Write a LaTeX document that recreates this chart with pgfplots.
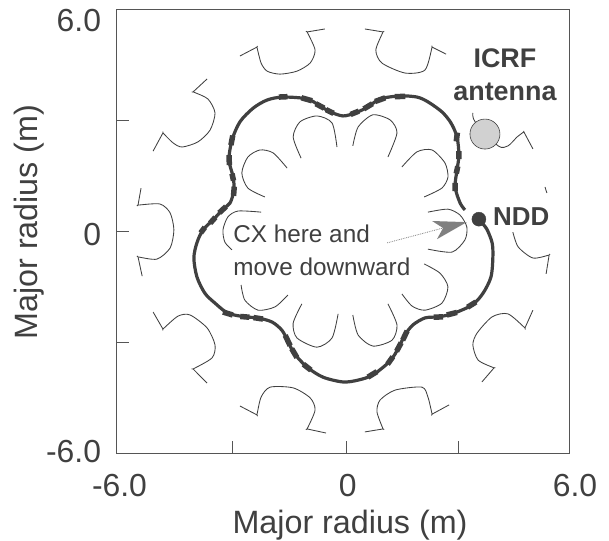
\documentclass[border=0pt]{standalone}
\usepackage{fontspec}
\setmainfont{Liberation Sans}
\usepackage{pgfplots}
\pgfplotsset{compat=1.18}
\definecolor{ink}{HTML}{404040}
\definecolor{frame}{HTML}{555555}
\pgfplotsset{coil/.style={line width=0.85bp,color=ink,no markers,smooth,tension=0.45}}
\begin{document}
\begin{tikzpicture}
\path[use as bounding box] (0,0) rectangle (609bp,541bp);
\begin{axis}[
  at={(116.5bp,88bp)},anchor=south west,scale only axis,
  width=453bp,height=444bp,
  xmin=-6,xmax=6,ymin=-6,ymax=6,
  axis line style={color=frame,line width=0.9bp},
  tick style={color=frame,line width=0.8bp},
  tick align=inside,major tick length=12bp,
  xtick pos=bottom,ytick pos=left,
  xtick={-6,-2.94,0.1,3.05,6},ytick={-6,-3,0,3,6},
  xticklabels={\hspace{6bp}-6.0,,\hspace{2bp}0,,\hspace{11bp}6.0},
  yticklabels={\raisebox{-9.5bp}[0pt][0pt]{-6.0},,\raisebox{-14.5bp}[0pt][0pt]{0},,\raisebox{-23bp}[0pt][0pt]{6.0}},
  yticklabel style={anchor=east,xshift=-12bp},
  xticklabel style={yshift=-17.5bp},
  tick label style={font=\fontsize{32}{34}\selectfont,color=ink},
  xlabel={Major radius (m)},ylabel={Major radius (m)},
  label style={font=\fontsize{32.4}{34}\selectfont,color=ink},
  xlabel style={at={(axis description cs:0.5155,0)},anchor=base,yshift=-80bp},
  ylabel style={at={(axis description cs:-0.1733,0.52)},anchor=base},
  clip=false,unbounded coords=jump,
]
% outer coils
\addplot[coil] coordinates {(-2.73,4.73)(-2.28,4.97)(-2.28,4.97)(-2.17,4.54)(-2.01,4.32)(-1.67,4.24)(-1.22,4.32)(-0.87,4.54)(-0.74,4.89)(-0.95,5.38)(-0.95,5.38)(-0.48,5.46)};
\addplot[coil] coordinates {(-3.60,4.11)(-3.97,3.76)(-3.97,3.76)(-3.58,3.57)(-3.39,3.19)(-3.52,2.73)(-3.84,2.41)(-4.26,2.27)(-4.50,2.38)(-4.77,2.65)(-4.77,2.65)(-5.03,2.16)};
\addplot[coil] coordinates {(-5.35,1.16)(-5.43,0.70)(-5.43,0.70)(-4.85,0.73)(-4.58,0.49)(-4.48,0.03)(-4.58,-0.46)(-4.93,-0.76)(-5.43,-0.70)(-5.43,-0.70)(-5.32,-1.22)};
\addplot[coil] coordinates {(-5.03,-2.19)(-4.77,-2.65)(-4.77,-2.65)(-4.37,-2.30)(-4.05,-2.27)(-3.60,-2.62)(-3.39,-3.08)(-3.47,-3.43)(-3.97,-3.73)(-3.97,-3.73)(-3.60,-4.11)};
\addplot[coil] coordinates {(-2.73,-4.73)(-2.28,-4.97)(-2.28,-4.97)(-2.17,-4.49)(-1.93,-4.22)(-1.32,-4.24)(-0.87,-4.51)(-0.74,-4.84)(-0.95,-5.35)(-0.95,-5.35)(-0.45,-5.46)};
\addplot[coil] coordinates {(0.58,-5.43)(1.06,-5.35)(1.06,-5.35)(0.90,-4.89)(0.98,-4.57)(1.38,-4.30)(2.09,-4.22)(2.25,-4.49)(2.36,-4.95)(2.36,-4.95)(2.81,-4.70)};
\addplot[coil] coordinates {(3.68,-4.08)(4.00,-3.70)(4.00,-3.70)(3.58,-3.49)(3.44,-3.08)(3.55,-2.76)(3.95,-2.32)(4.37,-2.24)(4.82,-2.62)(4.82,-2.62)(5.03,-2.14)};
\addplot[coil] coordinates {(4.50,-0.03)(4.64,-0.43)(5.03,-0.73)(5.46,-0.65)(5.46,-0.65)(5.38,-1.16)};
\addplot[coil] coordinates {(5.35,1.19)(5.40,1.03)};
\addplot[coil] coordinates {(3.44,3.19)(3.50,2.95)(4.11,2.30)(4.37,2.30)(4.61,2.54)(4.79,2.68)(4.79,2.68)(5.03,2.22)};
\addplot[coil] coordinates {(0.58,5.46)(1.06,5.38)(1.06,5.38)(0.87,4.89)(1.03,4.54)(1.64,4.27)(2.17,4.35)(2.36,4.97)(2.36,4.97)(2.73,4.78)};
% inner coils
\addplot[coil] coordinates {(-1.11,1.97)(-1.32,2.54)(-1.14,2.95)(-0.69,3.11)(-0.29,2.92)(-0.16,2.27)};
\addplot[coil] coordinates {(0.26,2.30)(0.40,2.81)(0.79,3.14)(1.25,3.00)(1.43,2.65)(1.19,2.00)};
\addplot[coil] coordinates {(-1.48,1.70)(-1.85,2.11)(-2.20,2.19)(-2.52,2.00)(-2.68,1.57)(-2.52,1.16)(-2.07,0.92)};
\addplot[coil] coordinates {(1.56,1.73)(1.96,2.14)(2.36,2.19)(2.70,1.84)(2.78,1.46)(2.62,1.16)(2.15,0.92)};
\addplot[coil] coordinates {(-2.17,0.51)(-2.78,0.54)(-3.05,0.38)(-3.18,0.03)(-3.13,-0.30)(-2.94,-0.51)};
\addplot[coil] coordinates {(2.25,0.51)(2.78,0.59)(3.10,0.43)(3.28,0.11)(3.23,-0.24)(2.89,-0.57)(2.25,-0.49)};
\addplot[coil] coordinates {(-2.70,-1.46)(-2.60,-1.87)(-2.25,-2.14)(-1.80,-2.05)(-1.46,-1.73)};
\addplot[coil] coordinates {(2.15,-0.89)(2.57,-1.14)(2.78,-1.51)(2.62,-1.95)(2.17,-2.14)(1.83,-2.03)(1.56,-1.70)};
\addplot[coil] coordinates {(-1.09,-1.97)(-1.32,-2.49)(-1.22,-2.89)(-0.69,-3.14)(-0.29,-2.89)(-0.13,-2.24)};
\addplot[coil] coordinates {(0.26,-2.27)(0.40,-2.81)(0.79,-3.11)(1.30,-2.95)(1.43,-2.54)(1.19,-1.97)};
% plasma boundary
\addplot[color=ink,line width=3.2bp,no markers,smooth,tension=0.5] coordinates {
(3.23,0.57)(3.10,0.76)(2.97,1.19)(3.02,1.65)(3.07,2.05)(3.02,2.54)(2.86,2.92)(2.62,3.22)(2.25,3.49)(1.96,3.62)(1.51,3.65)(0.98,3.57)(0.66,3.35)(0.32,3.19)(0,3.11)(-0.34,3.22)(-0.61,3.38)(-0.95,3.57)(-1.59,3.62)(-2.01,3.54)(-2.38,3.32)(-2.73,2.95)(-2.94,2.46)(-3.02,1.92)(-2.91,1.46)(-2.89,1.11)(-2.99,0.76)(-3.18,0.59)(-3.44,0.30)(-3.71,0.03)(-3.87,-0.32)(-3.95,-0.73)(-3.87,-1.24)(-3.66,-1.68)(-3.39,-1.95)(-3.05,-2.22)(-2.60,-2.32)(-2.25,-2.35)(-1.88,-2.46)(-1.62,-2.68)(-1.46,-2.97)(-1.30,-3.30)(-0.95,-3.68)(-0.53,-3.95)(0,-4.08)(0.40,-4.03)(0.79,-3.89)(1.25,-3.51)(1.48,-3.14)(1.64,-2.81)(1.85,-2.54)(2.17,-2.35)(2.52,-2.32)(2.89,-2.24)(3.42,-2.00)(3.71,-1.68)(3.92,-1.24)(3.97,-0.70)(3.95,-0.32)(3.81,0.05)(3.66,0.24)};
% thicker stretches on the boundary
\addplot[color=ink,line width=5.5bp,no markers] coordinates {
(1.65,3.64)(1.37,3.63)(0,nan)(1.12,3.60)(0.85,3.50)(0,nan)(0.78,3.44)(0.55,3.30)(0,nan)(0.42,3.24)(0.20,3.15)(0,nan)
(-0.25,3.18)(-0.45,3.28)(0,nan)(-0.50,3.32)(-0.72,3.44)(0,nan)(-0.82,3.52)(-1.10,3.60)(0,nan)(-1.47,3.63)(-1.70,3.62)(0,nan)
(-2.92,2.58)(-2.97,2.32)(0,nan)(-3.02,2.05)(-3.01,1.78)(0,nan)(-2.94,1.55)(-2.90,1.36)(0,nan)(-2.88,1.20)(-2.90,0.95)(0,nan)
(-3.10,0.66)(-3.28,0.49)(0,nan)(-3.38,0.37)(-3.52,0.21)(0,nan)(-3.66,0.10)(-3.77,-0.05)(0,nan)
(3.07,2.16)(3.07,1.94)(0,nan)(3.04,1.75)(3.00,1.55)(0,nan)(3.03,2.66)(3.00,2.42)(0,nan)(2.97,1.30)(2.97,1.08)(0,nan)
(-3.18,-2.19)(-2.92,-2.27)(0,nan)(-2.72,-2.31)(-2.48,-2.33)(0,nan)(-2.37,-2.34)(-2.12,-2.38)(0,nan)
(-1.53,-2.82)(-1.40,-3.10)(0,nan)(-1.36,-3.18)(-1.22,-3.42)(0,nan)(-1.05,-3.60)(-0.85,-3.76)(0,nan)
(0.66,-3.95)(0.90,-3.80)(0,nan)(1.18,-3.60)(1.32,-3.40)(0,nan)(1.42,-3.25)(1.54,-3.02)(0,nan)(1.58,-2.95)(1.70,-2.70)(0,nan)
(2.40,-2.33)(2.65,-2.32)(0,nan)(2.75,-2.27)(3.02,-2.20)(0,nan)(3.30,-2.06)(3.52,-1.92)};
% arrow and its dotted tail
\addplot[color=gray,line width=0.8bp,densely dotted,no markers] coordinates {(1.17,-0.32)(2.65,0.08)};
\addplot[fill=black!50,draw=none,no markers] coordinates {(3.28,0.24)(2.36,0.27)(2.65,0.08)(2.49,-0.22)} --cycle;
% NDD and ICRF positions
\addplot[only marks,mark=*,mark size=7bp,color=ink] coordinates {(3.60,0.32)};
\addplot[only marks,mark=*,mark size=15bp,mark options={fill=black!18,draw=ink,line width=0.6bp}] coordinates {(3.76,2.62)};
% texts
\node[font=\fontsize{27}{29}\selectfont\bfseries,color=ink] at (axis cs:4.29,4.68) {ICRF};
\node[font=\fontsize{27}{29}\selectfont\bfseries,color=ink] at (axis cs:4.29,3.76) {antenna};
\node[font=\fontsize{26}{28}\selectfont\bfseries,color=ink] at (axis cs:4.72,0.38) {NDD};
\node[font=\fontsize{24.4}{26}\selectfont,color=ink,anchor=west,inner sep=0pt] at (axis cs:-2.91,-0.08) {CX here and};
\node[font=\fontsize{24.4}{26}\selectfont,color=ink,anchor=west,inner sep=0pt] at (axis cs:-2.91,-0.97) {move downward};
\end{axis}
\end{tikzpicture}
\end{document}
